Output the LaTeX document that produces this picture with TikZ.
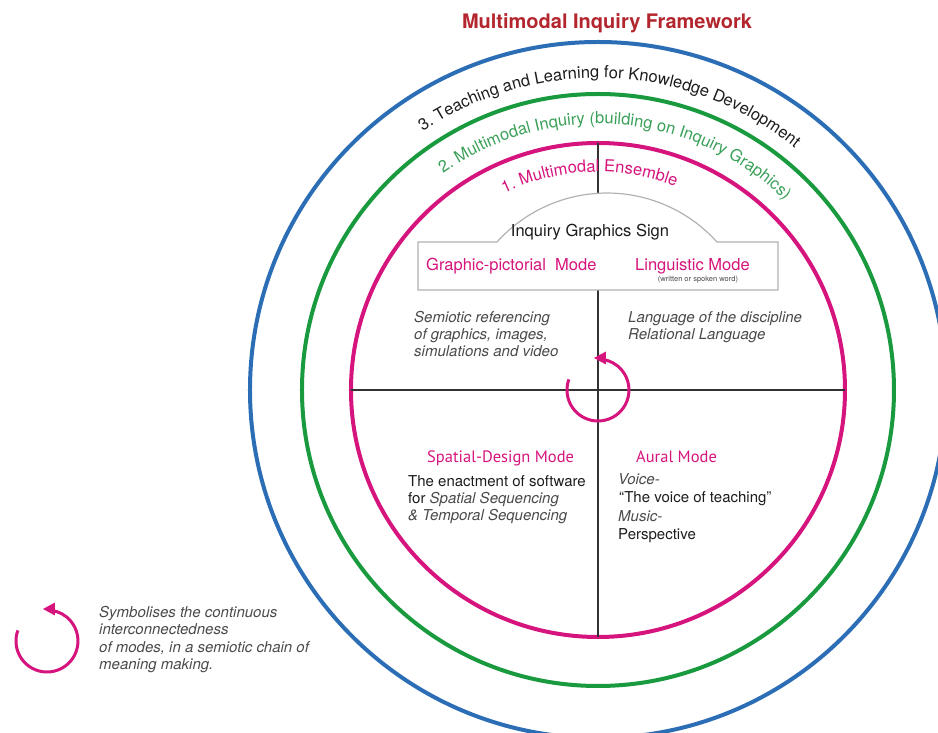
\documentclass[tikz,border=0pt]{standalone}
\usepackage{fontspec}
\setmainfont{TeX Gyre Heros}
\newfontfamily\modefont{PT Sans}
\usetikzlibrary{decorations.text}

\definecolor{ringblue}{RGB}{44,110,182}
\definecolor{ringgreen}{RGB}{26,154,62}
\definecolor{ringpink}{RGB}{214,20,125}
\definecolor{greentext}{RGB}{58,160,88}
\definecolor{titlered}{RGB}{180,38,46}
\definecolor{softgray}{RGB}{74,74,74}
\definecolor{inkblack}{RGB}{28,28,28}
\definecolor{signgray}{RGB}{178,178,178}
\definecolor{axisgray}{RGB}{50,50,50}

\newcommand\ringfont{\fontsize{16.5}{18}\selectfont}
\newcommand\bodyfont{\fontsize{15}{17}\selectfont}

\begin{document}
\begin{tikzpicture}[x=1pt,y=1pt,
  ring/.style={line width=4pt},
  axisline/.style={draw=axisgray, line width=1.3pt},
  lbl/.style={inner sep=0pt, anchor=base west, font=\bodyfont},
  modelbl/.style={lbl, text=ringpink, font=\fontsize{16.5}{18}\selectfont},
  quadmode/.style={lbl, text=ringpink, font=\modefont\fontsize{16.5}{18}\selectfont},
  note/.style={lbl, text=softgray, font=\bodyfont\itshape},
  plain/.style={lbl, text=inkblack},
  ringtext/.style={decorate, decoration={text along path, text align=center,
    text={#1}}},
  % circular arrow: an open pink loop ending in a left-pointing head
  cyclemark/.pic={
    \draw[draw=ringpink, line width=3pt]
      (160:31) arc[start angle=160, end angle=442, radius=31];
    \fill[ringpink] (-4,32) -- (8,38.5) -- (8,25.5) -- cycle;
  }
]
\useasboundingbox (-598,-343) rectangle (340,390);

% the three concentric rings
\coordinate (C) at (0,0);
\draw[ring, draw=ringblue]  (C) circle[radius=348];
\draw[ring, draw=ringgreen] (C) circle[radius=296];
\draw[ring, draw=ringpink]  (C) circle[radius=247];

% quadrant axes inside the inner ring
\coordinate (W) at (-247,0);
\coordinate (E) at (247,0);
\coordinate (N) at (0,247);
\coordinate (S) at (0,-247);
\draw[axisline] (W) -- (E);
\draw[axisline] (S) -- (N);

% the inquiry graphics sign: a box crowned with a dome
\filldraw[fill=white, draw=signgray, line width=1.2pt]
  (-180,100) -- (-180,148) -- (-101,148)
  arc[start angle=138, end angle=42, radius=148]
  -- (180,148) -- (180,100) -- cycle;

% ring captions
\path[ringtext={|\ringfont\color{inkblack}|3. Teaching and Learning for Knowledge Development}]
  (157.5:312) arc[start angle=157.5, end angle=17.5, radius=312];
\path[ringtext={|\ringfont\color{greentext}|2. Multimodal Inquiry (building on Inquiry Graphics)}]
  (155.5:266) arc[start angle=155.5, end angle=15.5, radius=266];
\path[ringtext={|\ringfont\color{ringpink}|1. Multimodal Ensemble}]
  (162.3:218) arc[start angle=162.3, end angle=22.3, radius=218];

% title
\node[inner sep=0pt, anchor=base, text=titlered,
  font=\fontsize{20}{24}\selectfont\bfseries] (title) at (9,361)
  {Multimodal Inquiry Framework};

% sign contents
\node[inner sep=0pt, anchor=base, text=inkblack, font=\fontsize{16.5}{18}\selectfont]
  (signname) at (-8,153) {Inquiry Graphics Sign};
\node[modelbl] (graphic) at (-172,119) {Graphic-pictorial\ \ Mode};
\node[modelbl] (linguistic) at (37,119) {Linguistic Mode};
\node[inner sep=0pt, anchor=base, text=softgray, font=\fontsize{7.5}{8}\selectfont]
  (linguisticsub) at (100,108) {(written or spoken word)};

% upper quadrants
\node[note] (sem1) at (-184,67) {Semiotic referencing};
\node[note] (sem2) at (-184,50) {of graphics, images,};
\node[note] (sem3) at (-184,33) {simulations and video};
\node[note] (lang1) at (30,67) {Language of the discipline};
\node[note] (lang2) at (30,50) {Relational Language};

% lower left quadrant
\node[quadmode] (spatial) at (-171,-73) {Spatial-Design Mode};
\node[plain] (spa1) at (-190,-97) {The enactment of software};
\node[plain] (spa2) at (-190,-114) {for \textcolor{softgray}{\itshape Spatial Sequencing}};
\node[note] (spa3) at (-190,-131) {\& Temporal Sequencing};

% lower right quadrant
\node[quadmode] (aural) at (38,-73) {Aural Mode};
\node[note] (aur1) at (20,-95) {Voice-};
\node[plain] (aur2) at (21,-113) {“The voice of teaching”};
\node[note] (aur3) at (20,-132) {Music-};
\node[plain] (aur4) at (20,-150) {Perspective};

% cycle of modes at the centre
\pic (centrecycle) at (C) {cyclemark};

% legend
\coordinate (L) at (-551,-251);
\pic (legendcycle) at (L) {cyclemark};
\node[note] (leg1) at (-499,-228) {Symbolises the continuous};
\node[note] (leg2) at (-499,-245) {interconnectedness};
\node[note] (leg3) at (-499,-263) {of modes, in a semiotic chain of};
\node[note] (leg4) at (-499,-280) {meaning making.};
\end{tikzpicture}
\end{document}
